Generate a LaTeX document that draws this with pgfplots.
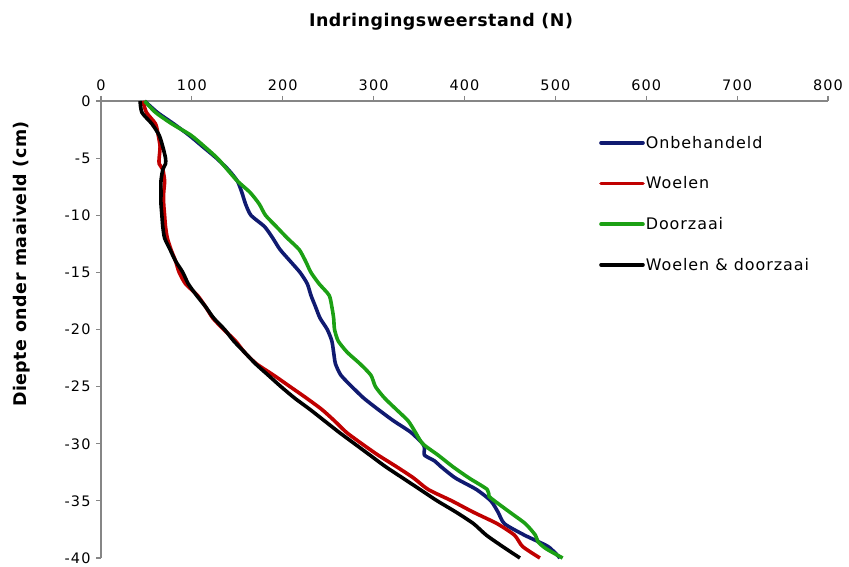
\documentclass[border=0pt]{standalone}
\usepackage{fontspec}
\setmainfont{DejaVu Sans}[LetterSpace=8]
\newfontfamily\titlefont{DejaVu Sans}[LetterSpace=3]
\newfontfamily\legendfont{DejaVu Sans}[LetterSpace=6]
\usepackage{pgfplots}
\pgfplotsset{compat=1.18}

\definecolor{onbeh}{RGB}{16,26,112}
\definecolor{woelen}{RGB}{192,0,0}
\definecolor{doorz}{RGB}{28,160,20}
\definecolor{axgray}{RGB}{134,134,134}

\begin{document}
\begin{tikzpicture}
\begin{axis}[
  name=ax, at={(0,0)}, anchor=south west,
  width=727bp, height=457bp, scale only axis,
  xmin=0, xmax=800, ymin=-40, ymax=0,
  axis x line*=top, axis y line*=left,
  xtick={0,100,...,800}, ytick={0,-5,...,-40},
  tick align=outside, major tick length=5bp,
  every tick/.style={axgray, line width=1.2bp},
  axis line style={axgray, line width=1.6bp},
  tick label style={font=\fontsize{14.5}{16}\selectfont},
  xticklabel style={yshift=2bp},
  yticklabel style={xshift=-2bp},
  /pgf/number format/assume math mode=true,
  clip=false,
  legend cell align=left,
  legend style={draw=none, fill=none,
    at={(axis description cs:0.6809,0.930)}, anchor=north west,
    font=\legendfont\fontsize{16}{18}\selectfont,
    row sep=25bp,
    nodes={inner sep=1bp}},
  legend image code/.code={\draw[#1, line cap=round] (0bp,0bp) -- (42bp,0bp);},
  every axis plot/.append style={line width=3.6bp, line join=round, smooth, tension=0.4},
]
\addplot[onbeh] coordinates {
 (48,0)(62,-1)(80,-2)(97,-3)(112,-4)(127,-5)(140,-6)(150,-7)(155,-8)(159,-9)
 (165,-10)(180,-11)(189,-12)(197,-13)(208,-14)(219,-15)(227,-16)(231,-17)(236,-18)(241,-19)
 (249,-20)(254,-21)(256,-22)(258,-23)(264,-24)(276,-25)(289,-26)(305,-27)(322,-28)(341,-29)
 (354,-30)(356,-30.4)(356,-31)(367,-31.5)(374,-32)(390,-33)(413,-34)(429,-35)(437,-36)(444,-37)
 (466,-38)(492,-39)(505,-40)};
\addlegendentry{Onbehandeld}
\addplot[woelen] coordinates {
 (46,0)(50,-1)(60,-2)(63,-3)(65,-4)(64,-5)(64,-5.5)(68,-6)(70,-7)(69,-8)(69,-9)
 (70,-10)(71,-11)(73,-12)(77,-13)(82,-14)(86,-15)(93,-16)(106,-17)(115,-18)(123,-19)
 (135,-20)(148,-21)(158,-22)(171,-23)(190,-24)(208,-25)(226,-26)(243,-27)(257,-28)(270,-29)
 (287,-30)(305,-31)(325,-32)(344,-33)(360,-34)(386,-35)(410,-36)(436,-37)(455,-38)(464,-39)
 (483,-40)};
\addlegendentry{Woelen}
\addplot[doorz] coordinates {
 (48,0)(60,-1)(78,-2)(99,-3)(114,-4)(128,-5)(139,-6)(150,-7)(164,-8)(174,-9)
 (181,-10)(193,-11)(205,-12)(218,-13)(225,-14)(231,-15)(240,-16)(251,-17)(254,-18)(256,-19)
 (257,-20)(261,-21)(271,-22)(285,-23)(297,-24)(302,-25)(312,-26)(325,-27)(338,-28)(346,-29)
 (354,-30)(371,-31)(387,-32)(405,-33)(425,-34)(427,-34.6)(433,-35)(450,-36)(467,-37)(478,-38)
 (481,-38.6)(490,-39.2)(508,-40)};
\addlegendentry{Doorzaai}
\addplot[black] coordinates {
 (43,0)(45,-1)(56,-2)(64,-3)(68,-4)(71,-5)(71,-5.5)(68,-6)(66,-7)(66,-8)(66,-9)
 (67,-10)(68,-11)(70,-12)(76,-13)(82,-14)(90,-15)(96,-16)(105,-17)(115,-18)(124,-19)
 (136,-20)(146,-21)(158,-22)(170,-23)(184,-24)(198,-25)(213,-26)(230,-27)(246,-28)(262,-29)
 (279,-30)(296,-31)(313,-32)(332,-33)(351,-34)(370,-35)(391,-36)(410,-37)(424,-38)(442,-39)
 (461,-40)};
\addlegendentry{Woelen \& doorzaai}
\end{axis}
% chart title and vertical axis title
\node[font=\titlefont\bfseries\fontsize{17.5}{20}\selectfont] at (340bp,536bp) {Indringingsweerstand (N)};
\node[font=\titlefont\bfseries\fontsize{17.5}{20}\selectfont, rotate=90] at (-79bp,294bp) {Diepte onder maaiveld (cm)};
% page frame
\path (-101bp,-6bp) rectangle (748bp,558bp);
\end{tikzpicture}
\end{document}
